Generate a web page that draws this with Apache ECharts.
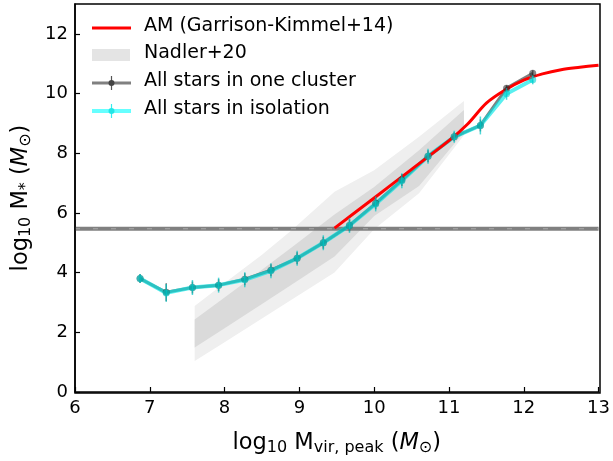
<!DOCTYPE html>
<html>
<head>
<meta charset="utf-8">
<script src="https://cdn.jsdelivr.net/npm/echarts@6/dist/echarts.min.js"></script>
<style>
  html, body { margin: 0; padding: 0; background: #fff; }
  #chart { width: 613px; height: 461px; }
</style>
</head>
<body>
<div id="chart"></div>
<script>
// Halo mass bins (log10 M_vir,peak)
const haloMass = [6.87, 7.22, 7.57, 7.92, 8.27, 8.62, 8.97, 9.32, 9.67, 10.02, 10.37, 10.72, 11.07, 11.42, 11.77, 12.12];
// Median stellar mass, all stars in one cluster
const clusterMstar = [3.80, 3.34, 3.50, 3.58, 3.78, 4.08, 4.48, 5.00, 5.58, 6.32, 7.10, 7.90, 8.55, 8.93, 10.18, 10.68];
const clusterErr   = [0.15, 0.30, 0.20, 0.20, 0.20, 0.20, 0.20, 0.20, 0.20, 0.20, 0.20, 0.20, 0.15, 0.20, 0.10, 0.10];
// Median stellar mass, all stars in isolation
const isoMstar = [3.80, 3.32, 3.50, 3.58, 3.76, 4.06, 4.48, 5.00, 5.58, 6.30, 7.08, 7.90, 8.55, 8.93, 9.99, 10.46];
const isoErr   = [0.15, 0.30, 0.25, 0.25, 0.25, 0.25, 0.25, 0.25, 0.25, 0.25, 0.25, 0.25, 0.20, 0.30, 0.20, 0.15];
// Abundance-matching relation (Garrison-Kimmel+14)
const amHalo  = [9.47, 10.0, 10.5, 11.0, 11.25, 11.5, 11.75, 12.0, 12.25, 12.5, 12.75, 13.0];
const amMstar = [5.49, 6.50, 7.46, 8.42, 8.98, 9.68, 10.12, 10.45, 10.66, 10.80, 10.88, 10.95];
// Nadler+20 scatter bands (outer and inner)
const bandHalo    = [7.6, 8.0, 8.5, 8.9, 9.47, 10.0, 10.6, 11.2];
const outerLow    = [1.04, 1.67, 2.46, 3.10, 4.00, 5.45, 6.66, 8.60];
const outerHigh   = [2.88, 3.65, 4.60, 5.43, 6.71, 7.43, 8.55, 9.75];
const innerLow    = [1.49, 2.14, 2.95, 3.60, 4.54, 5.90, 6.90, 8.70];
const innerHigh   = [2.43, 3.17, 4.10, 4.85, 5.95, 6.87, 8.10, 9.45];
// Reference stellar-mass level
const refLevel = 5.47;

const font = 'DejaVu Sans';

function bandPolygon(lowArr, highArr, fill) {
  return function (params, api) {
    const pts = [];
    for (let i = 0; i < bandHalo.length; i++) pts.push(api.coord([bandHalo[i], highArr[i]]));
    for (let i = bandHalo.length - 1; i >= 0; i--) pts.push(api.coord([bandHalo[i], lowArr[i]]));
    return { type: 'polygon', shape: { points: pts }, style: { fill: fill } };
  };
}

function errorBars(color, width) {
  return function (params, api) {
    const x = api.value(0), y = api.value(1), e = api.value(2);
    const p0 = api.coord([x, y - e]);
    const p1 = api.coord([x, y + e]);
    return { type: 'line', shape: { x1: p0[0], y1: p0[1], x2: p1[0], y2: p1[1] },
             style: { stroke: color, lineWidth: width } };
  };
}

const titleRich = {
  a: { fontFamily: font, fontSize: 22.5, color: '#000' },
  i: { fontFamily: font, fontSize: 22.5, fontStyle: 'italic', color: '#000' },
  s: { fontFamily: font, fontSize: 16, color: '#000', verticalAlign: 'bottom', padding: [10, 0, 0, 0] }
};

const chart = echarts.init(document.getElementById('chart'), null, { renderer: 'canvas' });

const option = {
  animation: false,
  grid: { left: 75, right: 13, top: 4, bottom: 68, containLabel: false },
  xAxis: {
    type: 'value', min: 6, max: 13, interval: 1,
    axisLine: { lineStyle: { color: '#000', width: 1.5 } },
    axisTick: { inside: true, length: 5, lineStyle: { color: '#000', width: 1.2 } },
    axisLabel: { color: '#000', fontFamily: font, fontSize: 18, margin: 7 },
    splitLine: { show: false },
    name: '{a|log}{s|10}{a| M}{s|vir, peak}{a| (}{i|M}{s|⊙}{a|)}',
    nameLocation: 'middle', nameGap: 38,
    nameTextStyle: { rich: titleRich }
  },
  yAxis: {
    type: 'value', min: 0, max: 13, interval: 2,
    axisLine: { lineStyle: { color: '#000', width: 1.5 } },
    axisTick: { inside: true, length: 5, lineStyle: { color: '#000', width: 1.2 } },
    axisLabel: { color: '#000', fontFamily: font, fontSize: 18, margin: 7, showMaxLabel: false },
    splitLine: { show: false },
    name: '{a|log}{s|10}{a| M}{s|*}{a| (}{i|M}{s|⊙}{a|)}',
    nameLocation: 'middle', nameGap: 40, nameRotate: 90,
    nameTextStyle: { rich: titleRich }
  },
  series: [
    { type: 'custom', renderItem: bandPolygon(outerLow, outerHigh, '#efefef'), data: [[bandHalo[0], outerLow[0]]], z: 1, silent: true },
    { type: 'custom', renderItem: bandPolygon(innerLow, innerHigh, '#dadada'), data: [[bandHalo[0], innerLow[0]]], z: 2, silent: true },
    { type: 'line', data: [[6, refLevel], [13, refLevel]], symbol: 'none', z: 3,
      lineStyle: { color: '#808080', width: 4 } },
    { type: 'line', data: [[6, refLevel], [13, refLevel]], symbol: 'none', z: 3,
      lineStyle: { color: '#a8a8a8', width: 1, type: [5, 13] } },
    { type: 'line', data: haloMass.map((x, i) => [x, clusterMstar[i]]), symbol: 'none', z: 4,
      lineStyle: { color: 'rgba(0,0,0,0.5)', width: 3 } },
    { type: 'line', data: haloMass.map((x, i) => [x, isoMstar[i]]), symbol: 'none', z: 5,
      lineStyle: { color: 'rgba(0,230,230,0.65)', width: 4 } },
    { type: 'line', data: amHalo.map((x, i) => [x, amMstar[i]]), symbol: 'none', smooth: 0.3, z: 6,
      lineStyle: { color: '#ff0000', width: 3 } },
    { type: 'custom', renderItem: errorBars('rgba(0,0,0,0.55)', 1.5), z: 7,
      data: haloMass.map((x, i) => [x, clusterMstar[i], clusterErr[i]]) },
    { type: 'scatter', data: haloMass.map((x, i) => [x, clusterMstar[i]]), symbolSize: 7, z: 7,
      itemStyle: { color: 'rgba(40,40,40,0.7)' } },
    { type: 'custom', renderItem: errorBars('rgba(0,200,200,0.7)', 1.5), z: 8,
      data: haloMass.map((x, i) => [x, isoMstar[i], isoErr[i]]) },
    { type: 'scatter', data: haloMass.map((x, i) => [x, isoMstar[i]]), symbolSize: 7, z: 8,
      itemStyle: { color: 'rgba(0,210,210,0.75)' } }
  ],
  graphic: [
    // frame on top and right
    { type: 'rect', shape: { x: 75, y: 4, width: 525, height: 389 }, style: { fill: 'none', stroke: '#000', lineWidth: 1.5 }, z: 100, silent: true },
    // legend
    { type: 'line', shape: { x1: 92, y1: 28, x2: 131, y2: 28 }, style: { stroke: '#ff0000', lineWidth: 3 }, z: 100 },
    { type: 'text', left: 144, top: 17, style: { text: 'AM (Garrison-Kimmel+14)', font: '19px "DejaVu Sans"', fill: '#000' }, z: 100 },
    { type: 'rect', shape: { x: 92, y: 49, width: 38, height: 12 }, style: { fill: '#e4e4e4' }, z: 100 },
    { type: 'text', left: 144, top: 44, style: { text: 'Nadler+20', font: '19px "DejaVu Sans"', fill: '#000' }, z: 100 },
    { type: 'line', shape: { x1: 92, y1: 83, x2: 131, y2: 83 }, style: { stroke: '#808080', lineWidth: 3 }, z: 100 },
    { type: 'line', shape: { x1: 111.5, y1: 76, x2: 111.5, y2: 90 }, style: { stroke: '#555', lineWidth: 1.2 }, z: 100 },
    { type: 'circle', shape: { cx: 111.5, cy: 83, r: 3 }, style: { fill: '#444' }, z: 100 },
    { type: 'text', left: 144, top: 72, style: { text: 'All stars in one cluster', font: '19px "DejaVu Sans"', fill: '#000' }, z: 100 },
    { type: 'line', shape: { x1: 92, y1: 111, x2: 131, y2: 111 }, style: { stroke: '#66ffff', lineWidth: 4 }, z: 100 },
    { type: 'line', shape: { x1: 111.5, y1: 104, x2: 111.5, y2: 118 }, style: { stroke: '#33eeee', lineWidth: 1.2 }, z: 100 },
    { type: 'circle', shape: { cx: 111.5, cy: 111, r: 3 }, style: { fill: '#22e6e6' }, z: 100 },
    { type: 'text', left: 144, top: 100, style: { text: 'All stars in isolation', font: '19px "DejaVu Sans"', fill: '#000' }, z: 100 }
  ]
};
chart.setOption(option);
</script>
</body>
</html>
